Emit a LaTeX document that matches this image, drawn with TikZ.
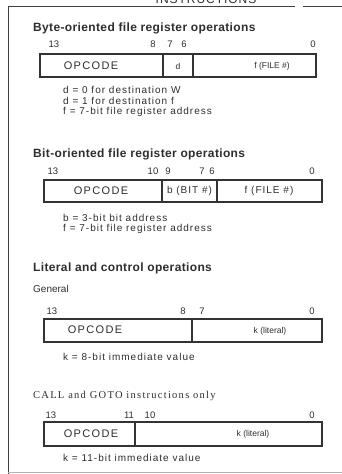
\documentclass[tikz,border=0pt]{standalone}
\usepackage{fontspec}
\setmainfont{Liberation Sans}
\newfontfamily\serifx[LetterSpace=12]{Liberation Serif}
\newfontfamily\notefont[LetterSpace=10]{Liberation Sans}
\newfontfamily\titlefont[LetterSpace=3]{Liberation Sans}
\newfontfamily\opcfont[LetterSpace=12]{Liberation Sans}
\newfontfamily\hdrfont[LetterSpace=8]{Liberation Sans}
\begin{document}
\begin{tikzpicture}[x=1pt,y=-1pt,
  ink/.style={text=black!82},
  frameline/.style={draw=black!75, line width=1pt},
  regbox/.style={draw=black!80, line width=1.1pt},
  sectitle/.style={ink, anchor=west, inner sep=0, font=\titlefont\bfseries\fontsize{12}{14}\selectfont},
  subtitle/.style={ink, anchor=west, inner sep=0, font=\fontsize{10}{12}\selectfont},
  note/.style={ink, anchor=west, inner sep=0, font=\notefont\fontsize{10}{12}\selectfont},
  bitnum/.style={ink, inner sep=0, font=\fontsize{9.5}{11}\selectfont},
  opc/.style={ink, inner sep=0, font=\opcfont\fontsize{11}{13}\selectfont},
  cell/.style={ink, inner sep=0, font=\fontsize{8.5}{10}\selectfont},
  bigcell/.style={ink, inner sep=0, font=\notefont\fontsize{10}{12}\selectfont}]
\useasboundingbox (0,0) rectangle (342,474);
\begin{scope}
\clip (0,0) rectangle (342,474);
% header, cut off at top
\node[ink, anchor=base, inner sep=0, font=\hdrfont\fontsize{12}{14}\selectfont] (hdr) at (206,3) {INSTRUCTIONS};
\coordinate (tl) at (8,6);
\coordinate (tg1) at (295,6);
\coordinate (tg2) at (303,6);
\coordinate (tr) at (342,6);
\coordinate (bl) at (8,474);
\draw[frameline] (tg1) -- (tl) -- (bl);
\draw[frameline] (tg2) -- (tr);
\draw[draw=black!30, line width=0.8pt] (8,472.5) -- (342,472.5);
\end{scope}

% ---------- Byte-oriented ----------
\node[sectitle] (t1) at (33,28) {Byte-oriented file register operations};
\node[bitnum] (b1a) at (54,44) {13};
\node[bitnum] (b1b) at (153,44) {8};
\node[bitnum] (b1c) at (170,44) {7};
\node[bitnum] (b1d) at (184,44) {6};
\node[bitnum] (b1e) at (313,44) {0};
\draw[regbox] (40,54) rectangle (316,77);
\draw[regbox] (163,54) -- (163,77);
\draw[regbox] (193,54) -- (193,77);
\node[opc] (o1) at (91,66) {OPCODE};
\node[cell] (c1a) at (178,66) {d};
\node[cell] (c1b) at (272,66) {f (FILE \#)};
\node[note] (n1a) at (63,90) {d = 0 for destination W};
\node[note] (n1b) at (63,101) {d = 1 for destination f};
\node[note] (n1c) at (63,112) {f = 7-bit file register address};

% ---------- Bit-oriented ----------
\node[sectitle] (t2) at (33,154) {Bit-oriented file register operations};
\node[bitnum] (b2a) at (53,171) {13};
\node[bitnum] (b2b) at (153,171) {10};
\node[bitnum] (b2c) at (168,171) {9};
\node[bitnum] (b2d) at (202,171) {7};
\node[bitnum] (b2e) at (212,171) {6};
\node[bitnum] (b2f) at (312,171) {0};
\draw[regbox] (44,180) rectangle (322,202);
\draw[regbox] (162,180) -- (162,202);
\draw[regbox] (217,180) -- (217,202);
\node[opc] (o2) at (101,191) {OPCODE};
\node[bigcell] (c2a) at (189.5,191) {b (BIT \#)};
\node[bigcell] (c2b) at (269,191) {f (FILE \#)};
\node[note] (n2a) at (63,218) {b = 3-bit bit address};
\node[note] (n2b) at (63,229) {f = 7-bit file register address};

% ---------- Literal and control ----------
\node[sectitle] (t3) at (33,268) {Literal and control operations};
\node[subtitle] (g3) at (33,289) {General};
\node[bitnum] (b3a) at (52,311) {13};
\node[bitnum] (b3b) at (183,311) {8};
\node[bitnum] (b3c) at (202,311) {7};
\node[bitnum] (b3d) at (312,311) {0};
\draw[regbox] (44,319) rectangle (322,342);
\draw[regbox] (192,319) -- (192,342);
\node[opc] (o3) at (95,330) {OPCODE};
\node[cell] (c3a) at (270,331) {k (literal)};
\node[note] (n3a) at (63,357) {k = 8-bit immediate value};

% ---------- CALL and GOTO ----------
\node[ink, anchor=west, inner sep=0, font=\serifx\fontsize{10.5}{12}\selectfont] (t4) at (33,396) {CALL and GOTO instructions only};
\node[bitnum] (b4a) at (51,415) {13};
\node[bitnum] (b4b) at (129,415) {11};
\node[bitnum] (b4c) at (150,415) {10};
\node[bitnum] (b4d) at (312,415) {0};
\draw[regbox] (44,422) rectangle (322,446);
\draw[regbox] (135,422) -- (135,446);
\node[opc] (o4) at (91,434) {OPCODE};
\node[cell] (c4a) at (253,434) {k (literal)};
\node[note] (n4a) at (63,458) {k = 11-bit immediate value};
\end{tikzpicture}
\end{document}
